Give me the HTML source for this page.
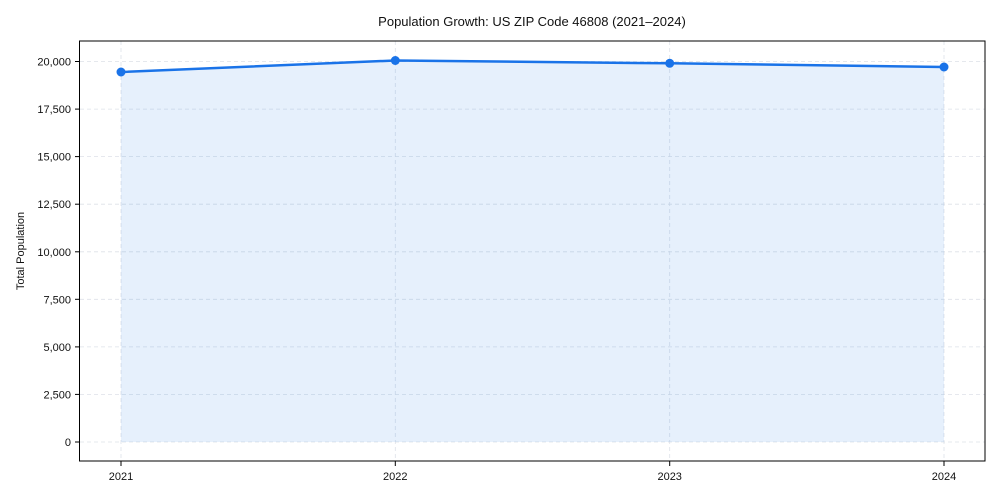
<!DOCTYPE html>
<html><head><meta charset="utf-8"><style>body{margin:0;background:#fff}svg{display:block;font-family:"Liberation Sans",Arial,sans-serif}</style></head><body>
<svg width="1000" height="500" xmlns="http://www.w3.org/2000/svg">
<rect width="1000" height="500" fill="#fff"/>
<text x="532" y="26" font-size="13" text-anchor="middle" fill="#111">Population Growth: US ZIP Code 46808 (2021–2024)</text>
<g stroke="#dde1e8" stroke-dasharray="4,3" stroke-width="0.8">
<line x1="80" x2="985" y1="442" y2="442"/><line x1="80" x2="985" y1="394.4" y2="394.4"/><line x1="80" x2="985" y1="346.9" y2="346.9"/><line x1="80" x2="985" y1="299.3" y2="299.3"/><line x1="80" x2="985" y1="251.8" y2="251.8"/><line x1="80" x2="985" y1="204.2" y2="204.2"/><line x1="80" x2="985" y1="156.6" y2="156.6"/><line x1="80" x2="985" y1="109.1" y2="109.1"/><line x1="80" x2="985" y1="61.5" y2="61.5"/>
<line x1="121" x2="121" y1="41" y2="461"/><line x1="395.3" x2="395.3" y1="41" y2="461"/><line x1="669.7" x2="669.7" y1="41" y2="461"/><line x1="944" x2="944" y1="41" y2="461"/>
</g>
<polygon points="121,72 395.3,60.5 669.7,63.3 944,67 944,442 121,442" fill="#1a73e8" fill-opacity="0.11"/>
<polyline points="121,72 395.3,60.5 669.7,63.3 944,67" fill="none" stroke="#1a73e8" stroke-width="2.5"/>
<g fill="#1a73e8"><circle cx="121" cy="72" r="4.5"/><circle cx="395.3" cy="60.5" r="4.5"/><circle cx="669.7" cy="63.3" r="4.5"/><circle cx="944" cy="67" r="4.5"/></g>
<rect x="79.5" y="41" width="905.5" height="420" fill="none" stroke="#000" stroke-width="1"/>
<g stroke="#000" stroke-width="1">
<line x1="75" x2="79.5" y1="442" y2="442"/><line x1="75" x2="79.5" y1="394.4" y2="394.4"/><line x1="75" x2="79.5" y1="346.9" y2="346.9"/><line x1="75" x2="79.5" y1="299.3" y2="299.3"/><line x1="75" x2="79.5" y1="251.8" y2="251.8"/><line x1="75" x2="79.5" y1="204.2" y2="204.2"/><line x1="75" x2="79.5" y1="156.6" y2="156.6"/><line x1="75" x2="79.5" y1="109.1" y2="109.1"/><line x1="75" x2="79.5" y1="61.5" y2="61.5"/>
<line x1="121" x2="121" y1="461" y2="466"/><line x1="395.3" x2="395.3" y1="461" y2="466"/><line x1="669.7" x2="669.7" y1="461" y2="466"/><line x1="944" x2="944" y1="461" y2="466"/>
</g>
<g font-size="11" fill="#111" text-anchor="end">
<text x="71" y="446">0</text><text x="71" y="398.4">2,500</text><text x="71" y="350.9">5,000</text><text x="71" y="303.3">7,500</text><text x="71" y="255.8">10,000</text><text x="71" y="208.2">12,500</text><text x="71" y="160.6">15,000</text><text x="71" y="113.1">17,500</text><text x="71" y="65.5">20,000</text>
</g>
<g font-size="11" fill="#111" text-anchor="middle">
<text x="121" y="480">2021</text><text x="395.3" y="480">2022</text><text x="669.7" y="480">2023</text><text x="944" y="480">2024</text>
</g>
<text transform="translate(24,251) rotate(-90)" font-size="11" fill="#111" text-anchor="middle">Total Population</text>
</svg>
</body></html>
